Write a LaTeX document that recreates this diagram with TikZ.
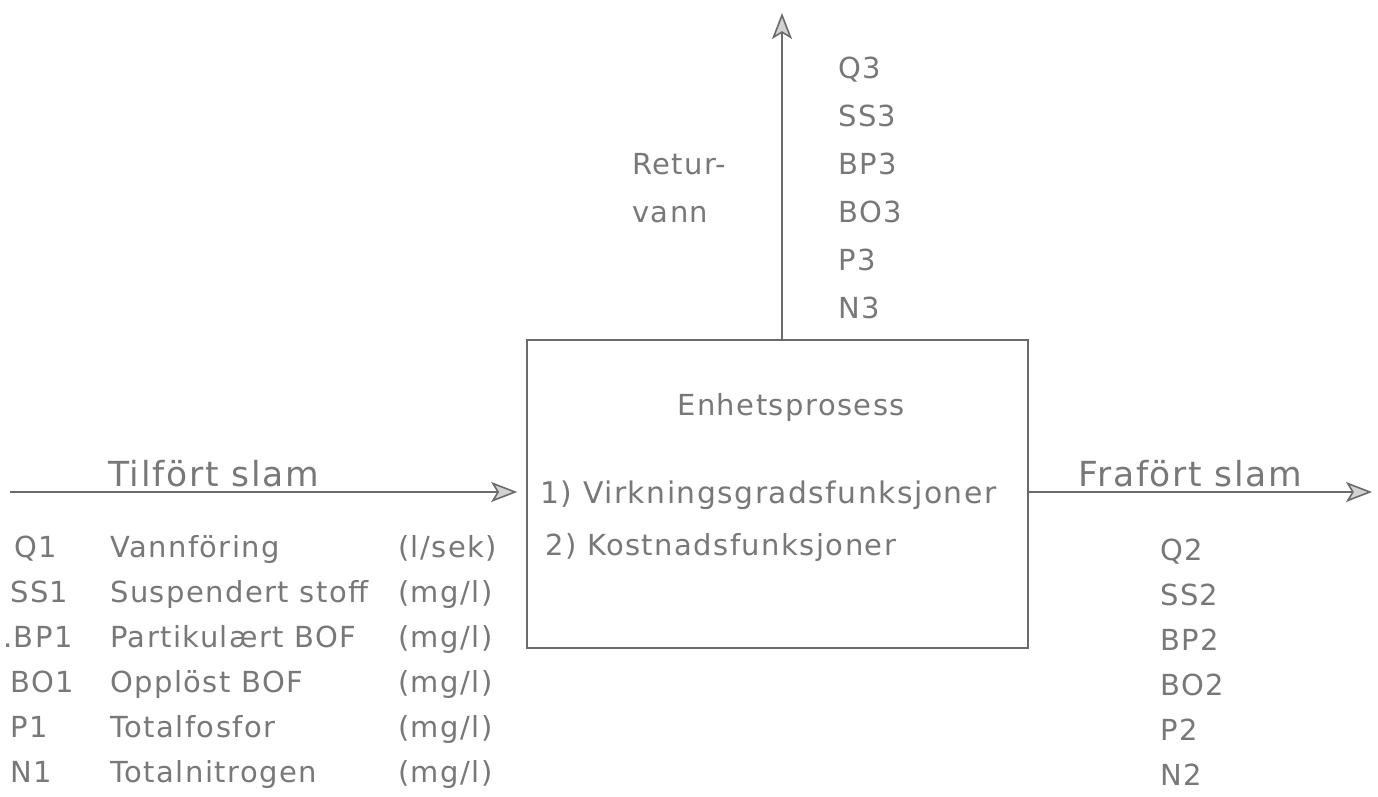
\documentclass[tikz,border=0pt]{standalone}
\usepackage{fontspec}
\setmainfont{DejaVu Sans}[LetterSpace=5]
\usetikzlibrary{arrows.meta}
\definecolor{ink}{gray}{0.47}
\definecolor{lineink}{gray}{0.42}
\begin{document}
\begin{tikzpicture}[x=1pt,y=-1pt,
  txt/.style={text=ink, font=\fontsize{29}{30}\selectfont, inner sep=0pt, anchor=base west},
  ttl/.style={text=ink, font=\fontsize{34.5}{36}\selectfont, inner sep=0pt, anchor=base west},
  flow/.style={draw=lineink, line width=1.6pt, -{Stealth[length=26pt,width=20pt,inset=6pt,fill=gray!35]}},
  procbox/.style={draw=lineink, line width=1.6pt, minimum width=501pt, minimum height=308pt, inner sep=0pt}]
\useasboundingbox (0,0) rectangle (1378,796);
% process box
\node[procbox] (box) at (777.5,494) {};
\node[txt, anchor=base] (title) at (791,415) {Enhetsprosess};
\node[txt, font=\fontsize{29.8}{30}\selectfont] (f1) at (540,503) {1) Virkningsgradsfunksjoner};
\node[txt] (f2) at (545,555) {2) Kostnadsfunksjoner};
% connectors
\coordinate (topend) at (782,13);
\coordinate (lstart) at (10,492);
\coordinate (rend) at (1372,492);
\draw[flow] (box.north -| topend) -- (topend);
\draw[flow, shorten >=9pt] (lstart) -- (lstart -| box.west);
\draw[flow] (rend -| box.east) -- (rend);
% flow labels
\node[ttl] (tin) at (108,486) {Tilfört slam};
\node[ttl] (tout) at (1078,486) {Frafört slam};
\node[txt] (ret1) at (632,174) {Retur-};
\node[txt] (ret2) at (632,222) {vann};
% return water column
\node[txt] (q3) at (838,78) {Q3};
\node[txt] (ss3) at (838,126) {SS3};
\node[txt] (bp3) at (838,174) {BP3};
\node[txt] (bo3) at (838,222) {BO3};
\node[txt] (p3) at (838,270) {P3};
\node[txt] (n3) at (838,318) {N3};
% outgoing column
\node[txt] (q2) at (1160,560) {Q2};
\node[txt] (ss2) at (1160,605) {SS2};
\node[txt] (bp2) at (1160,650) {BP2};
\node[txt] (bo2) at (1160,695) {BO2};
\node[txt] (p2) at (1160,740) {P2};
\node[txt] (n2) at (1160,785) {N2};
% incoming table
\node[txt] (q1) at (14,557) {Q1};
\node[txt] (ss1) at (10,602) {SS1};
\node[txt] (bp1) at (3,647) {.BP1};
\node[txt] (bo1) at (10,692) {BO1};
\node[txt] (p1) at (10,737) {P1};
\node[txt] (n1) at (10,782) {N1};
\node[txt] (d1) at (110,557) {Vannföring};
\node[txt] (d2) at (110,602) {Suspendert stoff};
\node[txt] (d3) at (110,647) {Partikulært BOF};
\node[txt] (d4) at (110,692) {Opplöst BOF};
\node[txt] (d5) at (110,737) {Totalfosfor};
\node[txt] (d6) at (110,782) {Totalnitrogen};
\node[txt] (u1) at (398,557) {(l/sek)};
\node[txt] (u2) at (398,602) {(mg/l)};
\node[txt] (u3) at (398,647) {(mg/l)};
\node[txt] (u4) at (398,692) {(mg/l)};
\node[txt] (u5) at (398,737) {(mg/l)};
\node[txt] (u6) at (398,782) {(mg/l)};
\end{tikzpicture}
\end{document}
